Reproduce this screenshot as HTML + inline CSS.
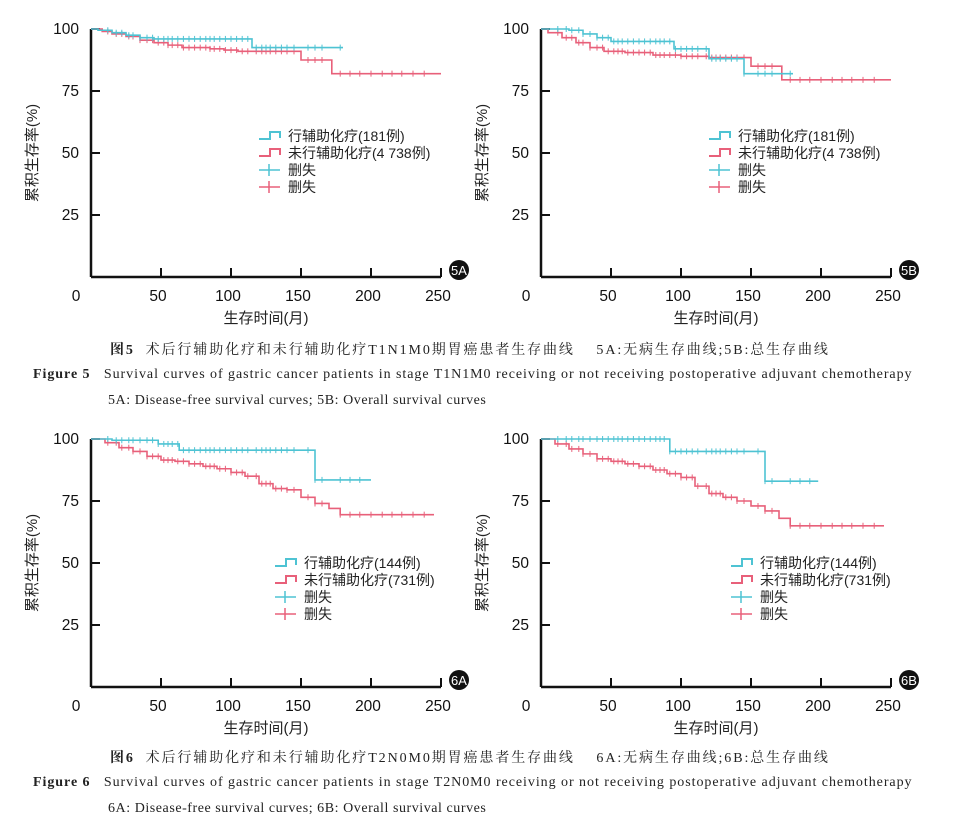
<!DOCTYPE html>
<html><head><meta charset="utf-8"><style>
body{margin:0;background:#fff;width:956px;height:831px;overflow:hidden;font-family:"Liberation Sans","Noto Sans CJK SC",sans-serif}
svg{position:absolute;left:0;top:0}
.cap{position:absolute;font-family:"Liberation Serif","Noto Serif CJK SC",serif;font-size:14px;color:#222;white-space:nowrap}
.cn{letter-spacing:1.9px}
.en{letter-spacing:0.95px}
.sub{letter-spacing:0.55px}
</style></head><body>
<svg id="s" width="956" height="831"></svg>
<div class="cap cn" style="left:110px;top:339px"><b>图5</b>&nbsp;&nbsp;术后行辅助化疗和未行辅助化疗T1N1M0期胃癌患者生存曲线&nbsp;&nbsp;&nbsp;&nbsp;5A:无病生存曲线;5B:总生存曲线</div>
<div class="cap en" style="left:33px;top:367px"><b>Figure 5</b>&nbsp;&nbsp;&nbsp;Survival curves of gastric cancer patients in stage T1N1M0 receiving or not receiving postoperative adjuvant chemotherapy</div>
<div class="cap sub" style="left:108px;top:393px">5A: Disease-free survival curves; 5B: Overall survival curves</div>
<div class="cap cn" style="left:110px;top:747px"><b>图6</b>&nbsp;&nbsp;术后行辅助化疗和未行辅助化疗T2N0M0期胃癌患者生存曲线&nbsp;&nbsp;&nbsp;&nbsp;6A:无病生存曲线;6B:总生存曲线</div>
<div class="cap en" style="left:33px;top:775px"><b>Figure 6</b>&nbsp;&nbsp;&nbsp;Survival curves of gastric cancer patients in stage T2N0M0 receiving or not receiving postoperative adjuvant chemotherapy</div>
<div class="cap sub" style="left:108px;top:801px">6A: Disease-free survival curves; 6B: Overall survival curves</div>
<script>
const xTicks=[0,50,100,150,200,250];
const yTicks=[25,50,75,100];
const p5aCyanT=[0,5,15,25,35,45,115], p5aCyanS=[100,99.5,98.5,97.5,96.5,96,92.5], p5aCyanEnd=180;
const p5aRedT=[0,8,15,25,35,45,55,65,85,95,105,150,172], p5aRedS=[100,99,98,97,95.5,94.5,93.5,92.5,92,91.5,91,87.5,82], p5aRedEnd=250;
const p5bCyanT=[0,20,30,40,50,95,120,145], p5bCyanS=[100,99.5,98,96.5,95,92,88,82], p5bCyanEnd=180;
const p5bRedT=[0,5,15,25,35,45,60,80,100,120,150,172], p5bRedS=[100,98.5,96.5,94.5,92.5,91,90.5,89.5,89,88.5,85,79.5], p5bRedEnd=250;
const p6aCyanT=[0,15,48,63,160], p6aCyanS=[100,99.5,98,95.5,83.5], p6aCyanEnd=200;
const p6aRedT=[0,10,20,30,40,50,60,70,80,90,100,110,120,130,140,150,160,170,178], p6aRedS=[100,98.5,96.5,95,93,91.5,91,90,89,88,86.5,85,82,80,79.5,76.5,74,72,69.5], p6aRedEnd=245;
const p6bCyanT=[0,92,160], p6bCyanS=[100,95,83], p6bCyanEnd=198;
const p6bRedT=[0,10,20,30,40,50,60,70,80,90,100,110,120,130,140,150,160,170,178], p6bRedS=[100,98,96,94,92,91,90,89,87.5,86,84.5,81,78,76.5,75,73,71,68,65], p6bRedEnd=245;
const cens5=[12,18,22,27,30,35,40,44,48,52,55,58,62,66,70,74,78,82,85,88,92,96,100,104,108,112,118,122,125,128,132,136,140,145,155,160,165,178];
const censLate=[185,192,200,208,215,222,230,238];
const panels=[
 {ox:0,oy:0,lab:'5A',leg:[259,136],n:['181','4 738'],c:[p5aCyanT,p5aCyanS,p5aCyanEnd],r:[p5aRedT,p5aRedS,p5aRedEnd]},
 {ox:450,oy:0,lab:'5B',leg:[709,136],n:['181','4 738'],c:[p5bCyanT,p5bCyanS,p5bCyanEnd],r:[p5bRedT,p5bRedS,p5bRedEnd]},
 {ox:0,oy:410,lab:'6A',leg:[275,153],n:['144','731'],c:[p6aCyanT,p6aCyanS,p6aCyanEnd],r:[p6aRedT,p6aRedS,p6aRedEnd]},
 {ox:450,oy:410,lab:'6B',leg:[731,153],n:['144','731'],c:[p6bCyanT,p6bCyanS,p6bCyanEnd],r:[p6bRedT,p6bRedS,p6bRedEnd]}];
const NS='http://www.w3.org/2000/svg', svg=document.getElementById('s');
function mk(t,a,par){const e=document.createElementNS(NS,t);for(const k in a)e.setAttribute(k,a[k]);(par||svg).appendChild(e);return e;}
const CY='#4ec3d3', RD='#e8607a';
function survAt(T,S,t){let s=S[0];for(let i=0;i<T.length;i++)if(T[i]<=t)s=S[i];return s;}
panels.forEach((p,pi)=>{
 const g=mk('g',{});
 
 
 const X=v=>91+p.ox+v*1.4, Y=v=>277+p.oy-v*2.48;
 mk('line',{x1:X(0),y1:Y(0),x2:X(250),y2:Y(0),stroke:'#111','stroke-width':2.5},g);
 mk('line',{x1:X(0),y1:Y(0),x2:X(0),y2:Y(100),stroke:'#111','stroke-width':2.5},g);
 xTicks.forEach(v=>{
  if(v>0)mk('line',{x1:X(v),y1:Y(0),x2:X(v),y2:Y(0)-9,stroke:'#111','stroke-width':2},g);
  const t=mk('text',{x:v==0?X(v)-15:X(v)-3,y:Y(0)+24,'text-anchor':'middle','font-size':15.5,fill:'#111'},g);t.textContent=v;
 });
 yTicks.forEach(v=>{
  mk('line',{x1:X(0),y1:Y(v),x2:X(0)+9,y2:Y(v),stroke:'#111','stroke-width':2},g);
  const t=mk('text',{x:X(0)-12,y:Y(v)+5,'text-anchor':'end','font-size':15.5,fill:'#111'},g);t.textContent=v;
 });
 const yt=mk('text',{x:0,y:0,'font-size':15,fill:'#222','text-anchor':'middle',transform:`translate(${X(0)-54},${Y(50)}) rotate(-90)`},g);yt.textContent='累积生存率(%)';
 const xt=mk('text',{x:X(125),y:Y(0)+46,'font-size':15,fill:'#222','text-anchor':'middle'},g);xt.textContent='生存时间(月)';
 mk('circle',{cx:X(250)+18,cy:Y(0)-7,r:10,fill:'#111'},g);
 const bl=mk('text',{x:X(250)+18,y:Y(0)-2,'font-size':13,fill:'#fff','text-anchor':'middle'},g);bl.textContent=p.lab;
 [[p.r,RD,'red'],[p.c,CY,'cyan']].forEach(([d,col,nm])=>{
  const [T,S,end]=d;let path=`M${X(T[0])},${Y(S[0])}`;
  for(let i=1;i<T.length;i++)path+=`H${X(T[i])}V${Y(S[i])}`;
  path+=`H${X(end)}`;
  const pe=mk('path',{d:path,fill:'none',stroke:col,'stroke-width':1.6},g);
  
  
  cens5.concat(censLate).filter(t=>t<end).forEach(t=>{
   const yy=Y(survAt(T,S,t));mk('line',{x1:X(t),y1:yy-3,x2:X(t),y2:yy+3,stroke:col,'stroke-width':1},g);
  });
 });
 const [lx,ly]=p.leg;const yy=ly+p.oy;
 const items=[['行辅助化疗('+p.n[0]+'例)',CY,'step'],['未行辅助化疗('+p.n[1]+'例)',RD,'step'],['删失',CY,'plus'],['删失',RD,'plus']];
 items.forEach((it,i)=>{
  const y=yy+i*17;
  if(it[2]=='step')mk('path',{d:`M${lx},${y+3}H${lx+11}V${y-4}H${lx+21}V${y+2}`,fill:'none',stroke:it[1],'stroke-width':2},g);
  else{mk('line',{x1:lx,y1:y,x2:lx+21,y2:y,stroke:it[1],'stroke-width':1.5},g);mk('line',{x1:lx+10,y1:y-6,x2:lx+10,y2:y+6,stroke:it[1],'stroke-width':1.5},g);}
  const t=mk('text',{x:lx+29,y:y+5,'font-size':14,fill:'#222'},g);t.textContent=it[0];
  
  
 });
});
</script>
</body></html>
